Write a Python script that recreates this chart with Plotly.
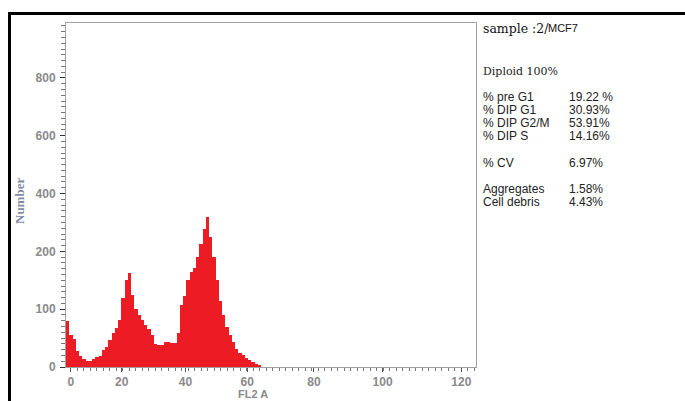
import plotly.graph_objects as go

# Histogram bins (plot units along FL2 A) and counts (plot units along Number axis)
channels = list(range(-1, 59))
counts = [80, 55, 48, 28, 19, 14, 11, 11, 14, 18,
          19, 29, 35, 47, 59, 67, 81, 119, 150, 163,
          125, 100, 90, 82, 73, 66, 55, 40, 38, 38,
          43, 44, 42, 41, 58, 107, 122, 150, 165, 172,
          190, 212, 238, 260, 225, 190, 150, 115, 90, 70,
          55, 44, 32, 25, 20, 16, 12, 8, 5, 2]
counts = counts[:len(channels)]

x_tick_vals = [0, 15.6, 35.2, 54.2, 74.7, 95.8, 120]
x_tick_text = ["0", "20", "40", "60", "80", "100", "120"]
y_tick_vals = [0, 100, 200, 300, 400, 500]
y_tick_text = ["0", "100", "200", "400", "600", "800"]

stat_labels = ["% pre G1", "% DIP G1", "% DIP G2/M", "% DIP S", "% CV", "Aggregates", "Cell debris"]
stat_values = ["19.22 %", "30.93%", "53.91%", "14.16%", "6.97%", "1.58%", "4.43%"]
stat_rows_px = [97, 109.5, 122.7, 136, 162.7, 189.3, 202]

RED = "#ED1C24"
L, R, T, B = 66, 476, 23, 367
W, H = 685, 401

def px2x(px):
    return (px - L) / (R - L)

def py2y(py):
    return (B - py) / (B - T)

fig = go.Figure()
fig.add_trace(go.Bar(x=channels, y=counts, width=1.0,
                     marker=dict(color=RED, line=dict(width=0)),
                     hoverinfo="skip"))

tickfont = dict(family="Arial", size=12, color="#8a8a8a", weight="bold")

fig.update_layout(
    width=W, height=H,
    margin=dict(l=L, r=W - R, t=T, b=H - B),
    paper_bgcolor="white", plot_bgcolor="white",
    showlegend=False, bargap=0,
    xaxis=dict(range=[-1.5, 124.5], tickmode="array", tickvals=x_tick_vals, ticktext=x_tick_text,
               showgrid=False, zeroline=False, showline=True, mirror=True, linecolor="#a0a0a0",
               linewidth=1, ticks="outside", ticklen=4, tickcolor="#555", tickfont=tickfont,
               minor=dict(tickmode="linear", tick0=0, dtick=2, ticks="outside", ticklen=3, tickcolor="#777")),
    yaxis=dict(range=[0, 595], tickmode="array", tickvals=y_tick_vals, ticktext=y_tick_text,
               showgrid=False, zeroline=False, showline=True, mirror=True, linecolor="#a0a0a0",
               linewidth=1, ticks="outside", ticklen=5, tickcolor="#333", tickfont=tickfont,
               ticklabelstandoff=2,
               minor=dict(tickmode="linear", tick0=0, dtick=10, ticks="outside", ticklen=4, tickcolor="#777")),
)

# outer black frame (top and left)
fig.add_shape(type="line", xref="paper", yref="paper", x0=px2x(8), x1=px2x(690), y0=py2y(13.5), y1=py2y(13.5),
              line=dict(color="black", width=3))
fig.add_shape(type="line", xref="paper", yref="paper", x0=px2x(9.5), x1=px2x(9.5), y0=py2y(12), y1=py2y(405),
              line=dict(color="black", width=3))

def note(text, px, py, family, size, color="#222", weight="normal", angle=0, xanchor="left", yanchor="middle"):
    return dict(text=text, x=px2x(px), y=py2y(py), xref="paper", yref="paper", showarrow=False,
                textangle=angle, font=dict(family=family, size=size, color=color, weight=weight),
                xanchor=xanchor, yanchor=yanchor, borderpad=0)

annos = [
    note("Number", 19, 201, "Liberation Serif", 13, "#7f8ea6", "bold", -90, "center"),
    note("FL2 A", 253, 387, "Arial", 11, "#8a8a8a", "bold", 0, "center", "top"),
    note("sample :2/", 482, 28, "DejaVu Serif", 12.5, "#111"),
    note("MCF7", 547, 28, "Arial", 11, "#111"),
    note("Diploid 100%", 482, 71, "DejaVu Serif", 11, "#222"),
]
for lab, val, py in zip(stat_labels, stat_values, stat_rows_px):
    annos.append(note(lab, 482, py, "Arial", 12))
    annos.append(note(val, 568, py, "Arial", 12))
fig.update_layout(annotations=annos)

fig.write_html("out.html", config={"displayModeBar": False},
               post_script="document.body.style.margin='0';document.body.style.overflow='hidden';")
